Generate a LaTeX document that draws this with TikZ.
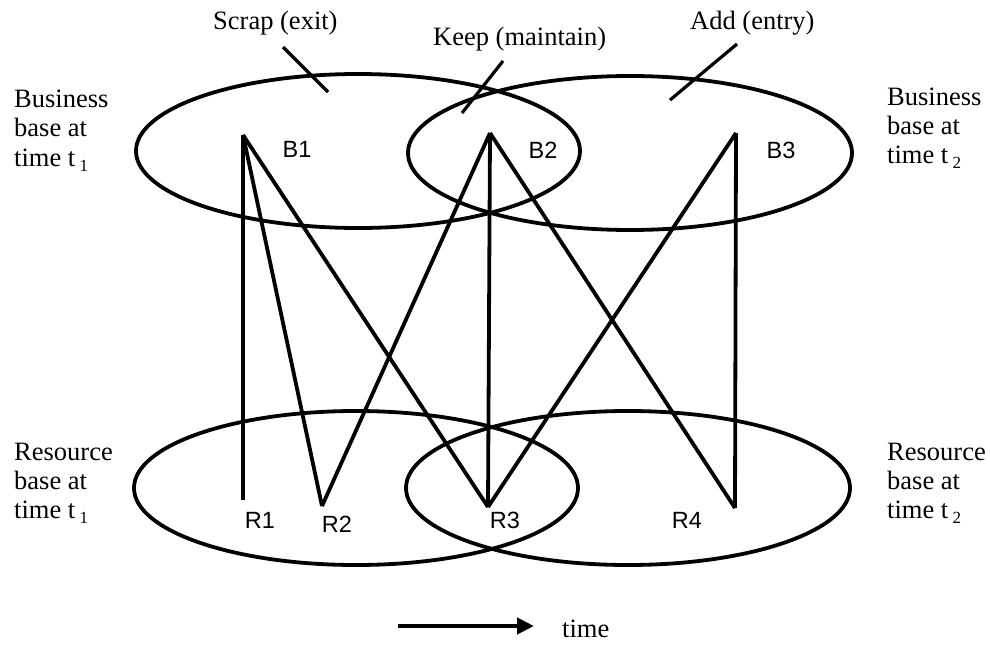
\documentclass[tikz,border=0pt]{standalone}
\usepackage{fontspec}
\setmainfont{Liberation Serif}
\newfontfamily\lblsans{Liberation Sans}
\usetikzlibrary{shapes.geometric,arrows.meta}
\newcommand{\mysubsc}[1]{\,\raisebox{-5pt}{\fontsize{17}{17}\selectfont #1}}
\tikzset{
  setshape/.style={draw, ellipse, line width=3.8pt, minimum width=444pt, minimum height=154pt, inner sep=0pt},
  link/.style={line width=3.8pt},
  pointer/.style={line width=3.2pt},
  serlabel/.style={anchor=base west, inner sep=0pt, font=\fontsize{26.5}{29}\selectfont},
  elem/.style={inner sep=0pt, font=\lblsans\fontsize{23.5}{23.5}\selectfont},
}
\begin{document}
\begin{tikzpicture}[x=1pt,y=-1pt]
\useasboundingbox (0,0) rectangle (990,645);
% sets
\node[setshape] (tl) at (358,151) {};
\node[setshape] (tr) at (630,153) {};
\node[setshape] (bl) at (356,488) {};
\node[setshape] (br) at (628,488) {};
% points
\coordinate (b1) at (243,135);
\coordinate (b2) at (490,133);
\coordinate (b3) at (736,133);
\coordinate (r1) at (243,500);
\coordinate (r2) at (322,506);
\coordinate (r3) at (488,507);
\coordinate (r4) at (735,508);
% links
\draw[link] (b1) -- (r1);
\draw[link] (b1) -- (r2);
\draw[link] (b1) -- (r3);
\draw[link] (b2) -- (r2);
\draw[link] (b2) -- (r3);
\draw[link] (b2) -- (r4);
\draw[link] (b3) -- (r3);
\draw[link] (b3) -- (r4);
% element labels
\node[elem] (lb1) at (297,149) {B1};
\node[elem] (lb2) at (543,150) {B2};
\node[elem] (lb3) at (781,150) {B3};
\node[elem] (lr1) at (260,520) {R1};
\node[elem] (lr2) at (337,524) {R2};
\node[elem] (lr3) at (505,520) {R3};
\node[elem] (lr4) at (687,520) {R4};
% top labels and pointers
\node[serlabel] (scrap) at (213,29) {Scrap (exit)};
\node[serlabel] (keep) at (433,45) {Keep (maintain)};
\node[serlabel] (add) at (690,29) {Add (entry)};
\coordinate (ps1) at (283,47);
\coordinate (ps2) at (328,92);
\coordinate (pk1) at (503,61);
\coordinate (pk2) at (462,113);
\coordinate (pa1) at (737,44);
\coordinate (pa2) at (670,100);
\draw[pointer] (ps1) -- (ps2);
\draw[pointer] (pk1) -- (pk2);
\draw[pointer] (pa1) -- (pa2);
% side labels
\node[serlabel] (bla) at (14,107) {Business};
\node[serlabel] (blb) at (14,136) {base at};
\node[serlabel] (blc) at (14,166) {time t\mysubsc{1}};
\node[serlabel] (bra) at (887,105) {Business};
\node[serlabel] (brb) at (887,134) {base at};
\node[serlabel] (brc) at (887,163) {time t\mysubsc{2}};
\node[serlabel] (rla) at (14,460) {Resource};
\node[serlabel] (rlb) at (14,489) {base at};
\node[serlabel] (rlc) at (14,518) {time t\mysubsc{1}};
\node[serlabel] (rra) at (887,460) {Resource};
\node[serlabel] (rrb) at (887,489) {base at};
\node[serlabel] (rrc) at (887,518) {time t\mysubsc{2}};
% time arrow
\coordinate (ta) at (398,626);
\coordinate (tb) at (534,626);
\draw[line width=4.2pt, -{Triangle[length=17pt,width=16pt]}] (ta) -- (tb);
\node[serlabel] (timelbl) at (562,637) {time};
\end{tikzpicture}
\end{document}
